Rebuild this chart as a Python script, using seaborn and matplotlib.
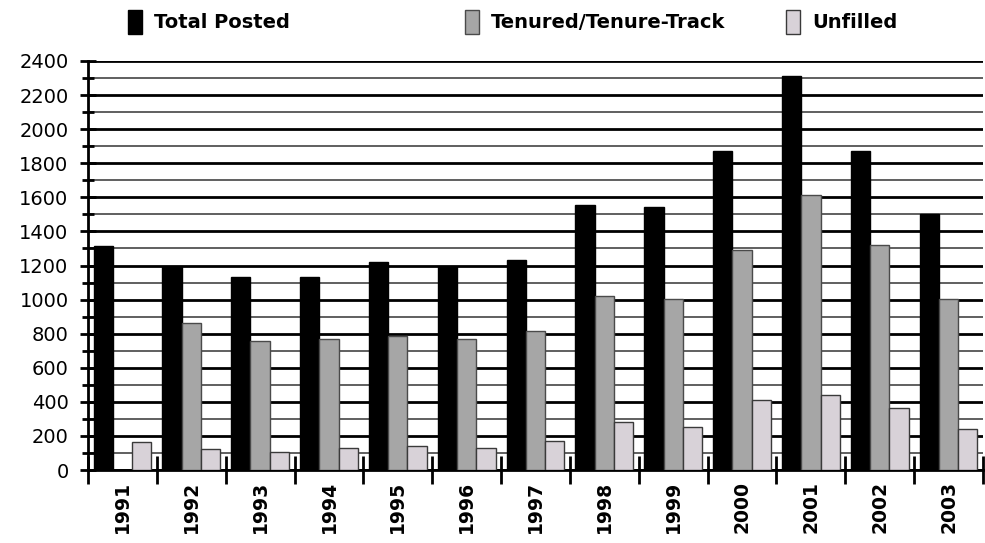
import numpy as np
import pandas as pd
import matplotlib
matplotlib.use("Agg")
import matplotlib.pyplot as plt
import seaborn as sns
from matplotlib.ticker import MultipleLocator

years = [str(y) for y in range(1991, 2004)]
total_posted = [1315, 1190, 1130, 1130, 1220, 1190, 1235, 1555, 1545, 1870, 2310, 1870, 1505]
tenured = [np.nan, 860, 755, 770, 784, 769, 815, 1020, 1002, 1290, 1615, 1320, 1003]
unfilled = [165, 123, 107, 127, 142, 127, 172, 283, 252, 410, 440, 364, 239]
series = ['Total Posted', 'Tenured/Tenure-Track', 'Unfilled']
colors = ['#000000', '#a6a6a6', '#d8d2d8']
edges = ['#000000', '#4a4a4a', '#3a3a3a']

df = pd.DataFrame({'Year': years * 3,
                   'Series': np.repeat(series, len(years)),
                   'Count': total_posted + tenured + unfilled})

sns.set_style('white')
plt.rcParams['font.family'] = ['DejaVu Sans']
plt.rcParams['text.color'] = 'black'

fig = plt.figure(figsize=(9.85, 5.43), dpi=100)
ax = fig.add_axes([88 / 985, 73 / 543, (983 - 88) / 985, 409 / 543])

sns.barplot(data=df, x='Year', y='Count', hue='Series', order=years, hue_order=series,
            palette=colors, saturation=1, width=0.84, ax=ax, legend=False, zorder=3)

for cont, ec in zip(ax.containers, edges):
    for p in cont.patches:
        p.set_edgecolor(ec)
        p.set_linewidth(1.0)

ax.set_xlim(-0.5, len(years) - 0.5)
ax.set_ylim(0, 2400)
ax.yaxis.set_major_locator(MultipleLocator(200))
ax.yaxis.set_minor_locator(MultipleLocator(100))
ax.set_axisbelow(True)
ax.grid(axis='y', which='major', color='black', linewidth=2.0, zorder=0)
ax.grid(axis='y', which='minor', color='#444444', linewidth=1.2, zorder=0)
ax.grid(axis='x', visible=False)

# category boundary ticks on x-axis, year labels centered
ax.set_xticks(np.arange(len(years)))
ax.set_xticklabels(years, rotation=90, fontsize=13.5, fontweight='bold')
ax.tick_params(axis='x', which='major', length=0, pad=8, labelcolor='black')
ax.set_xticks(np.arange(-0.5, len(years)), minor=True)
ax.tick_params(axis='x', which='minor', bottom=True, direction='inout', length=20,
               width=2, color='black')

ax.tick_params(axis='y', which='major', left=True, direction='inout', length=12, width=2,
               color='black', labelcolor='black', labelsize=14, pad=8)
ax.tick_params(axis='y', which='minor', left=True, direction='inout', length=8, width=2,
               color='black')

for side in ['top', 'right']:
    ax.spines[side].set_visible(False)
for side in ['left', 'bottom']:
    ax.spines[side].set_color('black')
    ax.spines[side].set_linewidth(2)
ax.set_xlabel('')
ax.set_ylabel('')

# legend entries spread across the top
handles = [plt.Rectangle((0, 0), 1, 1, facecolor=c, edgecolor=e, linewidth=1)
           for c, e in zip(colors, edges)]
x_pos = [120, 457, 778]
for h, lab, xp in zip(handles, series, x_pos):
    leg = fig.legend([h], [lab], loc='upper left', bbox_to_anchor=(xp / 985, 1.0 - 2 / 543),
                     frameon=False, handlelength=0.75, handleheight=1.5, handletextpad=0.6,
                     borderaxespad=0, prop={'weight': 'bold', 'size': 14})
    for t in leg.get_texts():
        t.set_color('black')

fig.savefig('out.png', dpi=100)
